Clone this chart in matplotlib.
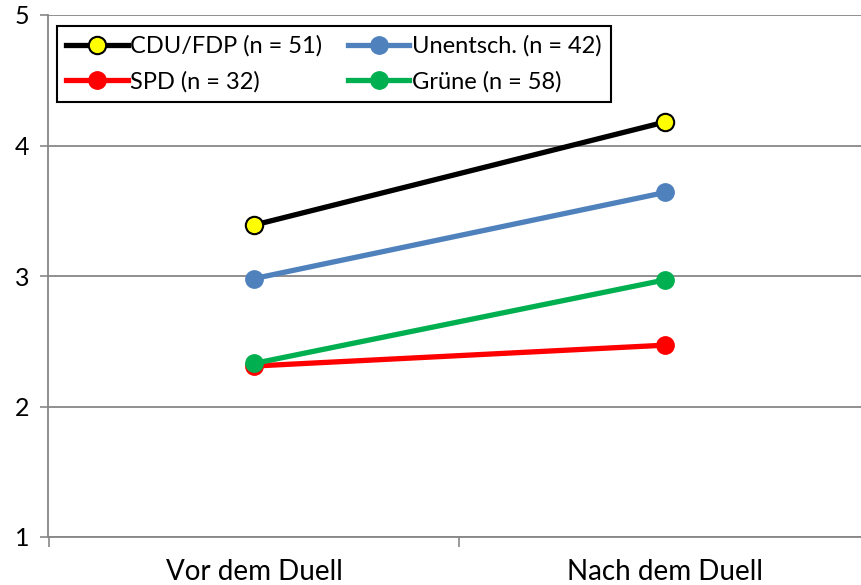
import numpy as np
import matplotlib
matplotlib.use("Agg")
import matplotlib.pyplot as plt

categories = ["Vor dem Duell", "Nach dem Duell"]
cdu_fdp = [3.39, 4.18]
unentsch = [2.98, 3.64]
spd = [2.31, 2.47]
gruene = [2.33, 2.97]

plt.rcParams["font.family"] = ["Lato", "DejaVu Sans"]

fig = plt.figure(figsize=(8.62, 5.85), dpi=100)
ax = fig.add_axes([48.5 / 862, 1 - 537 / 585, 822 / 862, 522 / 585])

x = np.arange(len(categories))
lw = 3.8
ms = 12.5

l_cdu, = ax.plot(x, cdu_fdp, color="black", lw=lw, marker="o", ms=ms,
                 markerfacecolor="#FFFF00", markeredgecolor="black",
                 markeredgewidth=1.5, zorder=5, label="CDU/FDP (n = 51)")
l_une, = ax.plot(x, unentsch, color="#4F81BD", lw=lw, marker="o", ms=ms,
                 zorder=4, label="Unentsch. (n = 42)")
l_spd, = ax.plot(x, spd, color="#FF0000", lw=lw, marker="o", ms=ms,
                 zorder=3, label="SPD (n = 32)")
l_gru, = ax.plot(x, gruene, color="#00B050", lw=lw, marker="o", ms=ms,
                 zorder=4, label="Grüne (n = 58)")

ax.set_xlim(-0.5, 1.5)
ax.set_ylim(1, 5)
ax.set_yticks([1, 2, 3, 4, 5])
ax.set_xticks(x)
ax.set_xticklabels(categories, fontsize=20)
ax.set_xticks([-0.5, 0.5, 1.5], minor=True)
ax.tick_params(axis="x", which="major", length=0, pad=16)
ax.tick_params(axis="x", which="minor", length=7, width=1.2, color="#878787")
ax.tick_params(axis="y", length=6, width=1.2, color="#878787", labelsize=18, pad=8)

ax.grid(axis="y", color="#878787", lw=1.3)
ax.set_axisbelow(True)
for s in ["top", "right"]:
    ax.spines[s].set_visible(False)
for s in ["left", "bottom"]:
    ax.spines[s].set_color("#878787")
    ax.spines[s].set_linewidth(1.3)

leg = ax.legend(handles=[l_cdu, l_spd, l_une, l_gru], ncol=2, loc="upper left",
                bbox_to_anchor=(0.01, 0.979), fontsize=17, frameon=True,
                fancybox=False, edgecolor="black", framealpha=1,
                handlelength=2.6, handletextpad=0.1, columnspacing=1.1,
                borderpad=0.4, labelspacing=0.6, borderaxespad=0)
leg.get_frame().set_linewidth(1.5)

fig.savefig("out.png", dpi=100)
